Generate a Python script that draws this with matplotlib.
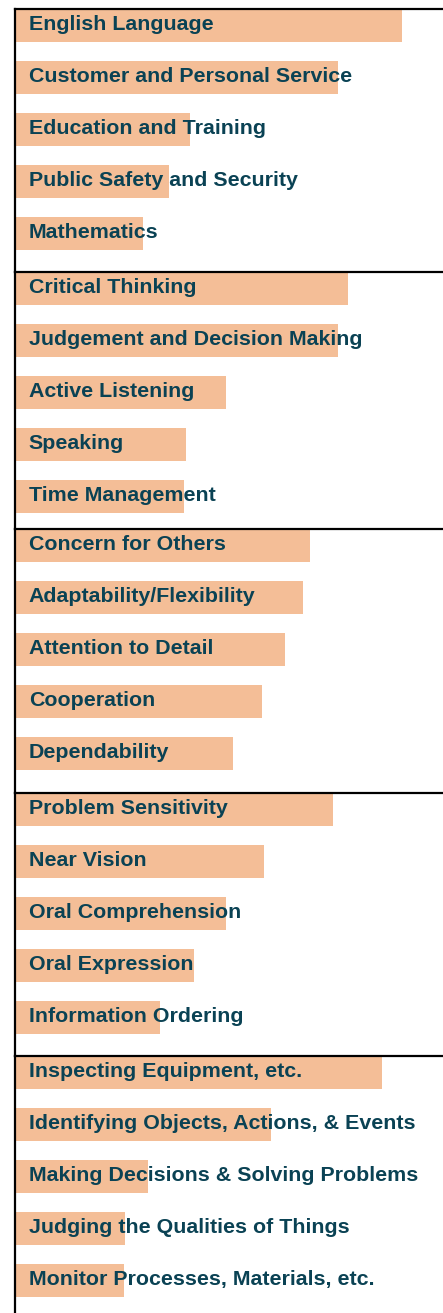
import matplotlib.pyplot as plt

# five groups, five items each (value = bar length, % of axis width)
knowledge = ['English Language', 'Customer and Personal Service', 'Education and Training',
             'Public Safety and Security', 'Mathematics']
knowledge_v = [90.4, 75.5, 40.9, 36.0, 29.9]
skills = ['Critical Thinking', 'Judgement and Decision Making', 'Active Listening',
          'Speaking', 'Time Management']
skills_v = [77.8, 75.5, 49.3, 40.0, 39.5]
styles = ['Concern for Others', 'Adaptability/Flexibility', 'Attention to Detail',
          'Cooperation', 'Dependability']
styles_v = [68.9, 67.3, 63.1, 57.7, 50.9]
abilities = ['Problem Sensitivity', 'Near Vision', 'Oral Comprehension',
             'Oral Expression', 'Information Ordering']
abilities_v = [74.3, 58.2, 49.3, 41.8, 33.9]
activities = ['Inspecting Equipment, etc.', 'Identifying Objects, Actions, & Events',
              'Making Decisions & Solving Problems', 'Judging the Qualities of Things',
              'Monitor Processes, Materials, etc.']
activities_v = [85.7, 59.8, 31.1, 25.7, 25.5]

groups = [(knowledge, knowledge_v), (skills, skills_v), (styles, styles_v),
          (abilities, abilities_v), (activities, activities_v)]

W, H = 443, 1313
fig = plt.figure(figsize=(W / 100, H / 100), dpi=100)

tops = [9, 272, 529, 793, 1056]   # pixel y of each panel's top line
pitch = 52.0
x0 = 15
for i, (labels, vals) in enumerate(groups):
    top = tops[i]
    bot = tops[i + 1] if i + 1 < len(tops) else H
    ax = fig.add_axes([x0 / W, 1 - bot / H, (W - x0) / W, (bot - top) / H])
    pos = list(range(len(labels)))
    ax.barh(pos, vals, height=33 / pitch, color='#F4BE97', left=0, clip_on=False)
    for p, lab in zip(pos, labels):
        ax.text(3.2, p + 4.5 / pitch, lab, va='baseline', ha='left', fontsize=15.4,
                fontweight='bold', color='#0a4254',
                family=['Liberation Sans', 'DejaVu Sans'], zorder=5, clip_on=False)
    off = 16.5 / pitch
    ax.set_ylim((bot - top) / pitch - off, -off)
    ax.set_xlim(0, 100)
    for s in ['right', 'bottom']:
        ax.spines[s].set_visible(False)
    ax.spines['top'].set_linewidth(1.6)
    ax.spines['left'].set_linewidth(1.6)
    ax.spines['top'].set_zorder(6)
    ax.set_xticks([])
    ax.set_yticks([])
    ax.patch.set_alpha(0)

fig.savefig('out.png', dpi=100)
